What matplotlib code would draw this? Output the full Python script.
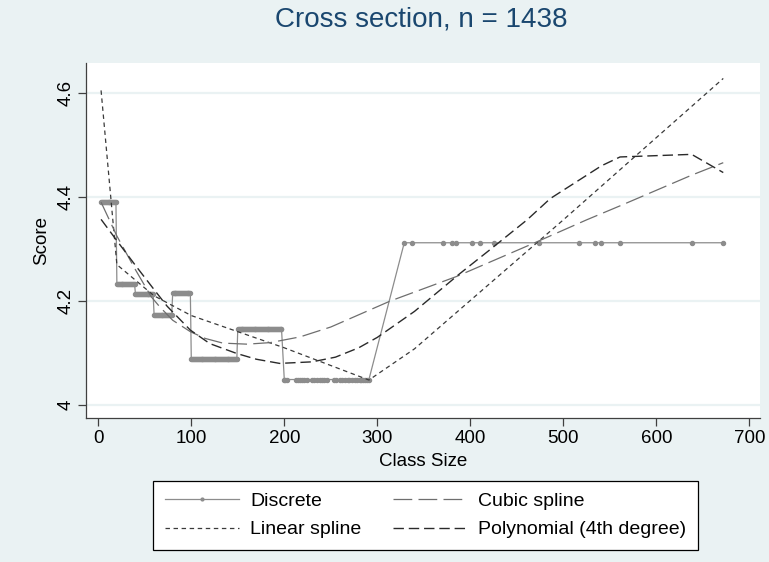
import numpy as np
import matplotlib.pyplot as plt

plt.rcParams['font.family'] = ['Liberation Sans', 'DejaVu Sans']
plt.rcParams['lines.scale_dashes'] = False

# --- data ---
# observed class sizes (dense up to ~200, sparse above)
class_sizes = (list(range(3, 198))
               + [200, 201, 203, 213, 215, 217, 219, 221, 224, 230, 232, 235, 238,
                  241, 243, 246, 253, 256, 260, 262, 265, 268, 270, 273, 276, 278,
                  281, 283, 285, 287, 289, 291]
               + [329, 337, 371, 380, 385, 402, 410, 425, 474, 517, 534, 541,
                  561, 638, 672])

# class-size bands and mean score in each band
band_edges = [1, 20, 40, 60, 80, 100, 150, 200, 300]
band_scores = [4.39, 4.233, 4.213, 4.174, 4.215, 4.089, 4.147, 4.049, 4.312]

lin_x = [3, 20, 60, 100, 200, 291, 340, 500, 672]
lin_y = [4.605, 4.27, 4.21, 4.172, 4.11, 4.048, 4.108, 4.356, 4.628]

cubic_x = [3, 20, 40, 57, 66, 80, 99, 115, 134, 160, 185, 217, 250, 314, 385,
           468, 525, 561, 638, 672]
cubic_y = [4.39, 4.325, 4.26, 4.208, 4.189, 4.163, 4.141, 4.128, 4.119, 4.117,
           4.12, 4.131, 4.15, 4.20, 4.247, 4.311, 4.356, 4.383, 4.442, 4.466]

poly_x = [3, 20, 41, 60, 74, 99, 120, 149, 170, 195, 230, 255, 280, 300, 340,
          389, 420, 461, 486, 541, 561, 638, 672]
poly_y = [4.357, 4.316, 4.266, 4.222, 4.19, 4.144, 4.118, 4.099, 4.088, 4.080,
          4.083, 4.092, 4.11, 4.13, 4.18, 4.253, 4.297, 4.356, 4.397, 4.46,
          4.477, 4.482, 4.447]

xs = np.array(class_sizes)
discrete = np.array(band_scores)[np.searchsorted(band_edges, xs, side='right') - 1]

# --- figure ---
bg = '#EAF2F3'
fs = 13.5
fig = plt.figure(figsize=(7.69, 5.62), dpi=100, facecolor=bg)
ax = fig.add_axes([86 / 769, 1 - 418 / 562, 674 / 769, 355 / 562])
ax.set_facecolor('white')

ax.plot(xs, discrete, color='#8c8c8c', lw=0.9, marker='o', ms=2.9,
        mec='#8c8c8c', mfc='#8c8c8c', label='Discrete', zorder=3)
ax.plot(lin_x, lin_y, color='#3a3a3a', lw=0.9, dashes=(3.2, 2.6),
        label='Linear spline', zorder=4)
ax.plot(cubic_x, cubic_y, color='#6e6e6e', lw=0.9, dashes=(13.5, 4.5),
        label='Cubic spline', zorder=4)
ax.plot(poly_x, poly_y, color='#2a2a2a', lw=1.0, dashes=(7.5, 3.5),
        label='Polynomial (4th degree)', zorder=4)

ax.set_xlim(-13.2, 711.5)
ax.set_ylim(3.975, 4.6577)
ax.set_xticks(range(0, 701, 100))
ax.set_yticks([4, 4.2, 4.4, 4.6])
ax.set_yticklabels(['4', '4.2', '4.4', '4.6'], rotation=90, va='center')
ax.grid(axis='y', color=bg, lw=1.6)
ax.set_axisbelow(True)

for s in ['top', 'right']:
    ax.spines[s].set_visible(False)
for s in ['left', 'bottom']:
    ax.spines[s].set_color('#404040')
    ax.spines[s].set_linewidth(0.9)
ax.tick_params(length=5.5, width=0.9, color='#404040', labelsize=fs, pad=3)

ax.set_xlabel('Class Size', fontsize=fs, labelpad=4.5)
ax.set_ylabel('Score', fontsize=fs, labelpad=5)
fig.text(421 / 769, 1 - 20 / 562, 'Cross section, n = 1438', ha='center',
         va='center', fontsize=20, color='#1A476F')

h, l = ax.get_legend_handles_labels()
leg = fig.legend(h, l, ncol=2, loc='lower left',
                 bbox_to_anchor=(153 / 769, 1 - 550 / 562),
                 fontsize=14, frameon=True, fancybox=False, edgecolor='black',
                 facecolor='white', framealpha=1,
                 handlelength=3.8, handletextpad=0.6, columnspacing=1.6,
                 labelspacing=0.54, borderpad=0.6, borderaxespad=0, numpoints=1)
leg.get_frame().set_linewidth(0.9)
for line in leg.get_lines():
    if line.get_marker() == 'o':
        line.set_markersize(2)

fig.savefig('out.png', dpi=100, facecolor=bg)
